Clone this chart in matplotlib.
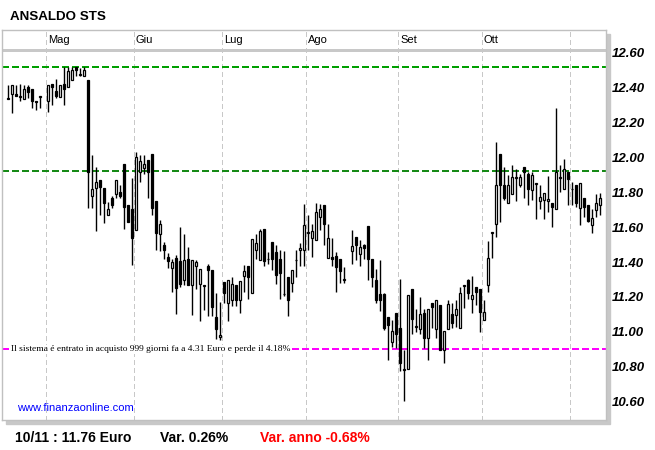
import numpy as np
import matplotlib
matplotlib.use("Agg")
import matplotlib.pyplot as plt
from matplotlib.patches import Rectangle

nan = np.nan
# daily candles (open, high, low, close); nan = no trading day
opens = [12.33, 12.36, 12.36, 12.345, 12.33, 12.40, 12.39, 12.32, 12.345, nan,
         12.32, 12.415, 12.38, 12.345, 12.415, 12.40, 12.44, 12.515, 12.47, 12.465,
         12.44, 11.775, 11.825, 11.87, 11.825, 11.67, 11.765, 11.79, 11.80, 11.96,
         11.725, 11.705, 11.585, 11.915, 11.935, 11.985, 12.015, 11.75, 11.56, 11.495,
         11.43, 11.365, 11.425, 11.405, 11.295, 11.415, 11.27, 11.375, 11.275, 11.265,
         11.375, 11.355, 11.085, 10.97, 11.285, 11.165, 11.18, 11.27, 11.18, 11.32,
         11.375, 11.225, 11.47, 11.41, 11.59, 11.415, 11.515, 11.46, 11.415, 11.215,
         11.315, 11.28, 11.41, 11.47, 11.47, 11.565, 11.535, 11.525, 11.655, 11.725,
         11.425, 11.43, 11.435, 11.415, 11.295, nan, 11.465, 11.545, 11.445, 11.495,
         11.605, 11.415, 11.295, 11.215, 11.215, 11.085, 10.945, 11.11, 11.02, 10.785,
         10.79, 11.245, 11.03, 11.015, 11.11, 10.965, 11.165, 11.015, 11.155, 10.895,
         11.015, 11.10, 11.095, 11.02, 11.265, 11.295, 11.19, 11.255, 11.245, 11.07,
         11.27, 11.565, 11.615, 12.015, 11.84, 11.735, 11.79, 11.88, 11.84, 11.945,
         11.905, 11.81, 11.845, 11.75, 11.755, 11.75, 11.735, 11.705, 11.88, 11.815,
         11.915, 11.815, 11.84, 11.71, 11.765, 11.725, 11.61, 11.695, 11.725]
highs = [12.41, 12.41, 12.41, 12.42, 12.41, 12.41, 12.39, 12.32, 12.345, nan,
         12.41, 12.415, 12.445, 12.41, 12.515, 12.515, 12.515, 12.515, 12.51, 12.515,
         12.44, 12.01, 11.945, 11.87, 11.825, 11.745, 11.78, 11.87, 11.84, 11.96,
         11.725, 11.88, 12.03, 12.01, 12.01, 11.985, 12.015, 11.75, 11.64, 11.515,
         11.45, 11.42, 11.44, 11.60, 11.56, 11.485, 11.41, 11.41, 11.36, 11.265,
         11.39, 11.355, 11.22, 11.17, 11.285, 11.30, 11.315, 11.27, 11.29, 11.385,
         11.375, 11.53, 11.56, 11.59, 11.59, 11.46, 11.515, 11.50, 11.47, 11.465,
         11.315, 11.355, 11.47, 11.51, 11.73, 11.67, 11.62, 11.74, 11.73, 11.725,
         11.62, 11.54, 11.46, 11.415, 11.37, nan, 11.585, 11.545, 11.525, 11.505,
         11.605, 11.42, 11.36, 11.41, 11.22, 11.085, 11.07, 11.11, 11.305, 10.895,
         11.21, 11.245, 11.13, 11.20, 11.13, 11.13, 11.165, 11.18, 11.155, 11.005,
         11.185, 11.165, 11.18, 11.26, 11.265, 11.305, 11.32, 11.255, 11.245, 11.185,
         11.52, 11.565, 12.085, 12.015, 11.945, 11.895, 11.955, 11.93, 11.905, 11.945,
         11.915, 11.915, 11.845, 11.84, 11.795, 11.89, 11.735, 12.28, 11.955, 11.99,
         11.915, 11.86, 11.84, 11.85, 11.765, 11.725, 11.705, 11.79, 11.795]
lows = [12.33, 12.25, 12.35, 12.32, 12.33, 12.335, 12.28, 12.27, 12.28, nan,
        12.255, 12.295, 12.335, 12.345, 12.30, 12.40, 12.44, 12.465, 12.465, 12.465,
        11.71, 11.71, 11.575, 11.67, 11.625, 11.67, 11.71, 11.765, 11.765, 11.59,
        11.63, 11.385, 11.585, 11.86, 11.905, 11.765, 11.67, 11.47, 11.465, 11.42,
        11.365, 11.23, 11.10, 11.26, 11.27, 11.27, 11.095, 11.245, 11.06, 11.125,
        11.09, 11.09, 10.96, 10.955, 11.165, 11.06, 11.15, 11.15, 11.11, 11.23,
        11.19, 11.225, 11.42, 11.41, 11.38, 11.39, 11.355, 11.275, 11.19, 11.205,
        11.09, 11.23, 11.315, 11.38, 11.375, 11.47, 11.43, 11.525, 11.585, 11.495,
        11.425, 11.375, 11.23, 11.28, 11.28, nan, 11.39, 11.41, 11.38, 11.42,
        11.30, 11.255, 11.165, 11.12, 11.01, 10.84, 10.915, 10.91, 10.775, 10.605,
        10.79, 10.99, 11.00, 10.99, 10.91, 10.84, 11.02, 10.965, 10.895, 10.82,
        11.015, 11.02, 11.03, 11.02, 11.135, 11.19, 11.11, 11.155, 11.00, 11.07,
        11.23, 11.425, 11.545, 11.63, 11.755, 11.735, 11.79, 11.75, 11.83, 11.765,
        11.725, 11.755, 11.645, 11.705, 11.645, 11.685, 11.60, 11.705, 11.80, 11.815,
        11.725, 11.725, 11.715, 11.61, 11.66, 11.63, 11.565, 11.66, 11.67]
closes = [12.34, 12.41, 12.35, 12.35, 12.39, 12.37, 12.32, 12.315, 12.345, nan,
          12.41, 12.40, 12.35, 12.41, 12.39, 12.49, 12.50, 12.50, 12.47, 12.50,
          11.915, 11.82, 11.86, 11.83, 11.74, 11.705, 11.725, 11.87, 11.78, 11.715,
          11.63, 11.54, 12.00, 11.98, 11.96, 11.915, 11.71, 11.565, 11.62, 11.47,
          11.405, 11.40, 11.25, 11.275, 11.41, 11.27, 11.41, 11.40, 11.36, 11.265,
          11.355, 11.145, 11.015, 10.98, 11.22, 11.30, 11.275, 11.18, 11.29, 11.35,
          11.315, 11.53, 11.51, 11.575, 11.405, 11.415, 11.415, 11.325, 11.335, 11.215,
          11.18, 11.355, 11.41, 11.48, 11.61, 11.565, 11.58, 11.685, 11.705, 11.62,
          11.54, 11.42, 11.37, 11.35, 11.305, nan, 11.49, 11.50, 11.485, 11.48,
          11.42, 11.315, 11.18, 11.18, 11.025, 11.04, 11.005, 10.99, 10.825, 10.79,
          11.21, 11.075, 11.03, 11.105, 10.965, 11.13, 11.14, 11.18, 10.895, 11.005,
          11.16, 11.05, 11.13, 11.225, 11.265, 11.22, 11.21, 11.23, 11.115, 11.115,
          11.425, 11.565, 11.84, 11.84, 11.765, 11.84, 11.885, 11.88, 11.885, 11.915,
          11.82, 11.90, 11.845, 11.77, 11.795, 11.76, 11.715, 11.915, 11.88, 11.93,
          11.875, 11.815, 11.74, 11.85, 11.715, 11.635, 11.65, 11.74, 11.765]

months = ["Mag", "Giu", "Lug", "Ago", "Set", "Ott", ""]
month_start = [10, 32, 54, 75, 98, 119, 141]   # candle index of first day
price_ticks = [10.60, 10.80, 11.00, 11.20, 11.40, 11.60, 11.80, 12.00, 12.20, 12.40, 12.60]
level_high = 12.515
level_mid = 11.92
level_system = 10.90
system_text = "Il sistema é entrato in acquisto 999 giorni fa a 4.31 Euro e perde il 4.18%"
title = "ANSALDO STS"
footer = ["10/11 : 11.76 Euro", "Var. 0.26%", "Var. anno -0.68%"]

o = np.array(opens); h = np.array(highs); l = np.array(lows); c = np.array(closes)
idx = np.arange(len(o))
ok = ~np.isnan(o)

W, H = 655, 450
fig = plt.figure(figsize=(W / 100, H / 100), dpi=100)
fig.patch.set_facecolor("white")

# frame shadow
fig.add_artist(Rectangle((6 / W, 1 - 424 / H), 604 / W, 390 / H,
                         transform=fig.transFigure, color="#c8c8c8", zorder=-1))
ax = fig.add_axes([2 / W, 1 - 420 / H, 604 / W, 390 / H])
ax.set_facecolor("white")
ax.set_xlim(-1.5, 149.5)
ax.set_ylim(10.497, 12.726)
for s in ax.spines.values():
    s.set_color("#c0c0c0")
    s.set_linewidth(1)

# header strip
ax.axhline(12.61, color="#c8c8c8", lw=1, antialiased=False)
for m, st in zip(months, month_start):
    ax.axvline(st - 0.6, color="#c8c8c8", lw=0.8, ls=(0, (4, 3)), antialiased=False)
    ax.text(st, 12.668, m, ha="left", va="center", fontsize=8,
            family="Liberation Sans")

# level lines
dash = (0, (4, 2.5))
ax.axhline(level_high, color="#00a000", lw=1.1, ls=dash, antialiased=False)
ax.axhline(level_mid, color="#168a16", lw=1.1, ls=dash, antialiased=False)
ax.axhline(level_system, color="#ff00ff", lw=1.1, ls=dash, antialiased=False)
ax.text(0.75, level_system, system_text, ha="left", va="center", fontsize=6.8,
        family="Liberation Serif", bbox=dict(facecolor="white", edgecolor="none", pad=0.5))

# candles
up = ok & (c >= o)
dn = ok & (c < o)
ax.vlines(idx[ok], l[ok], h[ok], color="black", lw=1.0, zorder=3)
body = np.maximum(np.abs(c - o), 0.004)
ax.bar(idx[up], body[up], bottom=o[up], width=0.7, color="white",
       edgecolor="black", linewidth=0.9, zorder=4)
ax.bar(idx[dn], body[dn], bottom=c[dn], width=0.7, color="black",
       edgecolor="black", linewidth=0.9, zorder=4)

ax.set_xticks([])
ax.yaxis.tick_right()
ax.set_yticks(price_ticks)
ax.set_yticklabels(["%.2f" % t for t in price_ticks], fontsize=9.5,
                   fontweight="bold", style="italic", family="Liberation Sans")
ax.tick_params(axis="y", length=0, pad=4.5)

ax.text(2.25, 10.565, "www.finanzaonline.com", color="#0000ff", fontsize=8,
        family="Liberation Sans", ha="left", va="center")

fig.text(10 / W, 1 - 17 / H, title, fontsize=9.6, fontweight="bold",
         family="Liberation Sans", va="center")
fig.text(15 / W, 1 - 438 / H, footer[0], fontsize=10, fontweight="bold",
         family="Liberation Sans", va="center")
fig.text(160 / W, 1 - 438 / H, footer[1], fontsize=10, fontweight="bold",
         family="Liberation Sans", va="center")
fig.text(260 / W, 1 - 438 / H, footer[2], fontsize=10, fontweight="bold",
         family="Liberation Sans", va="center", color="#ff0000")

fig.savefig("out.png", dpi=100)
